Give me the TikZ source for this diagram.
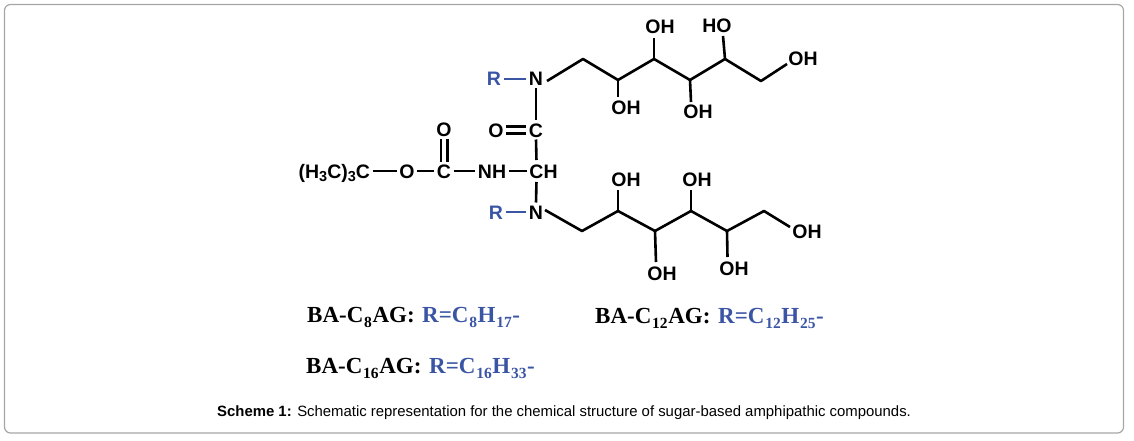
\documentclass[tikz,border=0pt]{standalone}
\usepackage{fontspec}
\setmainfont{Liberation Sans}
\newfontfamily\labfont{Liberation Serif}
\definecolor{rblue}{HTML}{3B55A5}
\definecolor{framegray}{HTML}{A6A6A6}
\newcommand{\atomsub}[1]{\raisebox{-3pt}{\fontsize{14.5}{14}\selectfont #1}}
\newcommand{\labsub}[1]{\kern0.8pt\raisebox{-5pt}{\fontsize{15.5}{15}\selectfont #1}\kern0.6pt}
\tikzset{
  atom/.style={font=\fontsize{19.5}{19}\selectfont\bfseries, inner sep=0pt, outer sep=2.5pt, text height=14pt, text depth=0pt},
  ratom/.style={atom, text=rblue},
  bond/.style={line width=2.6pt, black},
  rbond/.style={line width=2.6pt, rblue},
  dbond/.style={line width=2.3pt, black, double=white, double distance=4.4pt},
  lab/.style={font=\labfont\fontsize{23}{24}\selectfont\bfseries, inner sep=0pt, anchor=base west},
  rlab/.style={lab, text=rblue},
  caption/.style={font=\fontsize{14.9}{15}\selectfont, inner sep=0pt, anchor=base west},
  frame/.style={draw=framegray, line width=1.2pt, rounded corners=6pt}
}
\begin{document}
\begin{tikzpicture}[x=1pt,y=-1pt]
\useasboundingbox (0,0) rectangle (1134,441);
\draw[frame] (4.5,4.5) rectangle (1123.5,433);

% atoms of the backbone
\node[ratom] (R1) at (494,79) {R};
\node[atom] (N1) at (536,79) {N};
\node[atom] (C2) at (536,130) {C};
\node[atom] (O2) at (496,130) {O};
\node[atom] (CH) at (543.5,171) {CH};
\node[atom] (NH) at (492,171) {NH};
\node[atom] (C1) at (444,171) {C};
\node[atom] (O1) at (444,129) {O};
\node[atom] (O0) at (407,171) {O};
\node[atom, anchor=east] (tBu) at (372.5,171) {(H\atomsub{3}C)\atomsub{3}C};
\node[atom] (N2) at (536,212) {N};
\node[ratom] (R2) at (496,212) {R};
\coordinate (CHc) at (536.5,171);

% upper chain
\coordinate (a1) at (583,59);
\coordinate (a2) at (618,80);
\coordinate (a3) at (654,59);
\coordinate (a4) at (690,80);
\coordinate (a5) at (725,59);
\coordinate (a6) at (761,81);
\node[atom] (ao1) at (626,108) {OH};
\node[atom] (ao2) at (660,27) {OH};
\node[atom] (ao3) at (698,112) {OH};
\node[atom] (ao4) at (717,26) {HO};
\node[atom] (ao5) at (803,59) {OH};
\coordinate (ae1) at (618,97);
\coordinate (ae2) at (654,38);
\coordinate (ae3) at (691,102);
\coordinate (ae4) at (723,36);
\coordinate (ae5) at (787,64);
\coordinate (as) at (547,81);

% lower chain
\coordinate (b1) at (582,231);
\coordinate (b2) at (618,211);
\coordinate (b3) at (655,231);
\coordinate (b4) at (691,211);
\coordinate (b5) at (727,231);
\coordinate (b6) at (764,211);
\node[atom] (bo1) at (626,179) {OH};
\node[atom] (bo2) at (662,273) {OH};
\node[atom] (bo3) at (697,179) {OH};
\node[atom] (bo4) at (734,268) {OH};
\node[atom] (bo5) at (807,231) {OH};
\coordinate (be1) at (618,190);
\coordinate (be2) at (656,262);
\coordinate (be3) at (691,190);
\coordinate (be4) at (727.5,257);
\coordinate (be5) at (790,227);
\coordinate (bs) at (545,210);

% backbone bonds
\draw[rbond] (R1.east) -- (N1.west);
\draw[rbond] (R2.east) -- (N2.west);
\draw[bond] (N1.south) -- (C2.north);
\draw[dbond] (O2.east) -- (C2.west);
\draw[bond, shorten >=1.5pt] (C2.south) -- (CHc |- CH.north);
\draw[bond, shorten <=1.5pt] (CHc |- CH.south) -- (N2.north);
\draw[bond] (NH.east) -- (CHc -| CH.west);
\draw[bond] (C1.east) -- (NH.west);
\draw[bond] (O0.east) -- (C1.west);
\draw[bond] (tBu.east) -- (O0.west);
\draw[dbond] (O1.south) -- (C1.north);

% chain bonds
\draw[bond, line join=round] (as) -- (a1) -- (a2) -- (a3) -- (a4) -- (a5) -- (a6) -- (ae5);
\draw[bond] (a2) -- (ae1);
\draw[bond] (a3) -- (ae2);
\draw[bond] (a4) -- (ae3);
\draw[bond] (a5) -- (ae4);
\draw[bond, line join=round] (bs) -- (b1) -- (b2) -- (b3) -- (b4) -- (b5) -- (b6) -- (be5);
\draw[bond] (b2) -- (be1);
\draw[bond] (b3) -- (be2);
\draw[bond] (b4) -- (be3);
\draw[bond] (b5) -- (be4);

% compound labels
\node[lab] (L1) at (307,322) {BA-C\labsub{8}AG:};
\node[rlab] (V1) at (422,322) {R=C\labsub{8}H\labsub{17}-};
\node[lab] (L2) at (595,323) {BA-C\labsub{12}AG:};
\node[rlab] (V2) at (718,323) {R=C\labsub{12}H\labsub{25}-};
\node[lab] (L3) at (306,373) {BA-C\labsub{16}AG:};
\node[rlab] (V3) at (429,373) {R=C\labsub{16}H\labsub{33}-};

\node[caption] (cap) at (217,416.5) {\textbf{Scheme 1:} Schematic representation for the chemical structure of sugar-based amphipathic compounds.};
\end{tikzpicture}
\end{document}
